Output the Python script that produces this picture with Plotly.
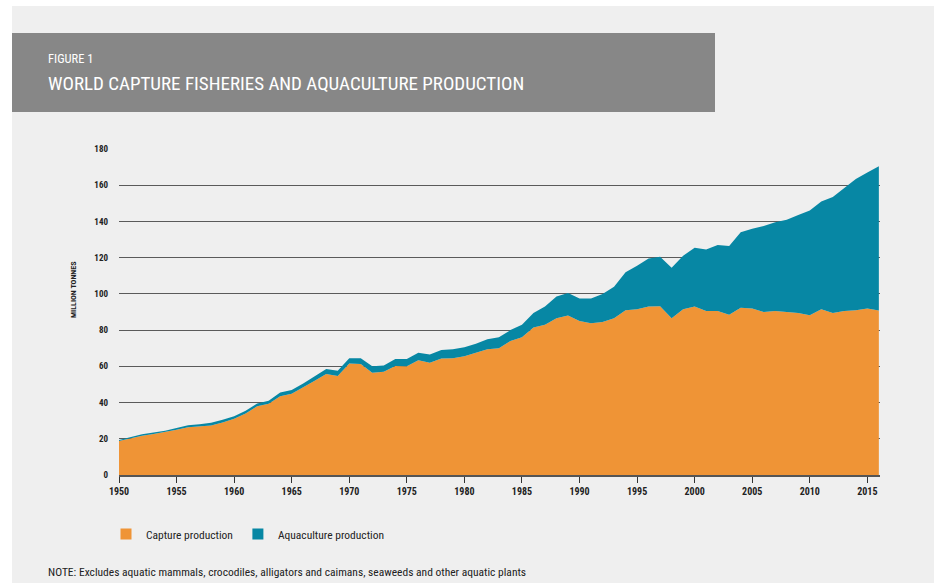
import plotly.graph_objects as go

years = list(range(1950, 2017))

capture = [18.8, 20.3, 21.7, 22.6, 23.6, 25.0, 26.3, 26.7, 27.4, 29.0,
           31.0, 34.0, 38.0, 39.3, 43.5, 44.9, 48.3, 52.0, 55.8, 54.6,
           61.5, 61.3, 56.5, 57.0, 60.2, 60.0, 63.3, 62.0, 64.3, 64.5,
           65.5, 67.5, 69.5, 70.0, 74.0, 76.0, 81.5, 83.0, 86.5, 88.0,
           85.0, 83.8, 84.5, 86.5, 91.0, 91.5, 93.0, 93.2, 86.6, 91.5,
           93.0, 90.5, 90.5, 88.5, 92.3, 92.0, 90.0, 90.5, 89.8, 89.5,
           88.2, 91.5, 89.5, 90.5, 91.0, 92.0, 90.8]

aquaculture = [0.5, 0.7, 0.8, 0.9, 0.9, 1.0, 1.2, 1.3, 1.4, 1.5,
               1.5, 1.5, 1.5, 1.7, 2.0, 2.1, 2.2, 2.5, 2.7, 2.9,
               3.0, 3.2, 3.5, 3.5, 3.8, 4.0, 4.2, 4.5, 4.7, 5.0,
               5.0, 5.0, 5.5, 6.0, 6.0, 7.0, 8.0, 10.0, 12.0, 12.5,
               12.5, 13.7, 15.5, 17.5, 21.0, 24.0, 26.5, 27.3, 27.9, 29.5,
               32.5, 34.0, 36.5, 38.0, 41.7, 44.0, 47.5, 49.0, 51.2, 54.0,
               57.8, 59.5, 64.0, 68.0, 72.5, 75.0, 79.7]

series_names = ["Capture production", "Aquaculture production"]
x_ticks = list(range(1950, 2016, 5))
y_ticks = list(range(0, 181, 20))

title_small = "FIGURE 1"
title_main = "WORLD CAPTURE FISHERIES AND AQUACULTURE PRODUCTION"
y_title = "MILLION TONNES"
note = "NOTE: Excludes aquatic mammals, crocodiles, alligators and caimans, seaweeds and other aquatic plants"

ORANGE = "#EF9436"
TEAL = "#0787A4"
BG = "#EFEFEF"
FONT = "Liberation Sans Narrow, Roboto Condensed, DejaVu Sans Condensed, sans-serif"

W, H = 934, 583
L, R, T, B = 119, 54, 149, 108
PW = W - L - R
PH = H - T - B


def px(x):
    return (x - L) / PW


def py(y):
    return (H - B - y) / PH


fig = go.Figure()
colors = [ORANGE, TEAL]
for name, vals, col in zip(series_names, [capture, aquaculture], colors):
    fig.add_trace(go.Scatter(x=years, y=vals, name=name, mode="lines",
                             stackgroup="one", line=dict(width=0, color=col),
                             fillcolor=col, showlegend=False, legendgroup=name))
# legend entries (square swatches, no data of their own)
for name, col in zip(series_names, colors):
    fig.add_trace(go.Scatter(x=[None], y=[None], name=name, mode="markers",
                             marker=dict(symbol="square", size=11, color=col, line=dict(width=0)),
                             showlegend=True, legendgroup=name))

shapes = [
    dict(type="rect", xref="paper", yref="paper", x0=px(12), x1=px(W + 5),
         y0=py(H + 5), y1=py(6), fillcolor=BG, line=dict(width=0), layer="below"),
    dict(type="rect", xref="paper", yref="paper", x0=px(12), x1=px(715),
         y0=py(112), y1=py(33), fillcolor="#878787", line=dict(width=0), layer="below"),
]

annotations = [
    dict(text=title_small, xref="paper", yref="paper", x=px(46), y=py(58),
         xanchor="left", yanchor="middle", showarrow=False,
         font=dict(family=FONT, size=12.5, color="white")),
    dict(text=title_main, xref="paper", yref="paper", x=px(46), y=py(83),
         xanchor="left", yanchor="middle", showarrow=False,
         font=dict(family=FONT, size=19, color="white")),
    dict(text="<b>" + y_title + "</b>", xref="paper", yref="paper", x=px(73), y=py(290),
         xanchor="center", yanchor="middle", showarrow=False, textangle=-90,
         font=dict(family=FONT, size=8, color="#222")),
    dict(text=note, xref="paper", yref="paper", x=px(46), y=py(572),
         xanchor="left", yanchor="middle", showarrow=False,
         font=dict(family=FONT, size=11.5, color="#222")),
]

fig.update_layout(
    width=W, height=H,
    margin=dict(l=L, r=R, t=T, b=B, pad=0),
    paper_bgcolor="white", plot_bgcolor=BG,
    font=dict(family=FONT, color="#222"),
    shapes=shapes, annotations=annotations,
    showlegend=True,
    legend=dict(orientation="h", x=px(106), y=py(534), xanchor="left", yanchor="middle",
                bgcolor="rgba(0,0,0,0)", font=dict(family=FONT, size=11.5, color="#222"),
                itemwidth=30, traceorder="normal"),
    hovermode=False,
)

fig.update_xaxes(range=[1950, 2016.1], tickvals=x_ticks, ticktext=["<b>%d</b>" % v for v in x_ticks],
                 ticks="outside", ticklen=6, tickcolor="#333", tickwidth=1,
                 showgrid=False, showline=True, linecolor="#555", linewidth=2,
                 zeroline=False, tickfont=dict(family=FONT, size=10, color="#222"))
fig.update_yaxes(range=[0, 180], tickvals=y_ticks, ticktext=["<b>%d</b>" % v for v in y_ticks],
                 showgrid=True, gridcolor="#5a5a5a", gridwidth=1, zeroline=False,
                 ticks="", ticklabelstandoff=10,
                 tickfont=dict(family=FONT, size=9, color="#222"), layer="below traces")

fig.write_html("out.html", config={"displayModeBar": False},
               post_script="document.body.style.margin='0';document.body.style.overflow='hidden';")
